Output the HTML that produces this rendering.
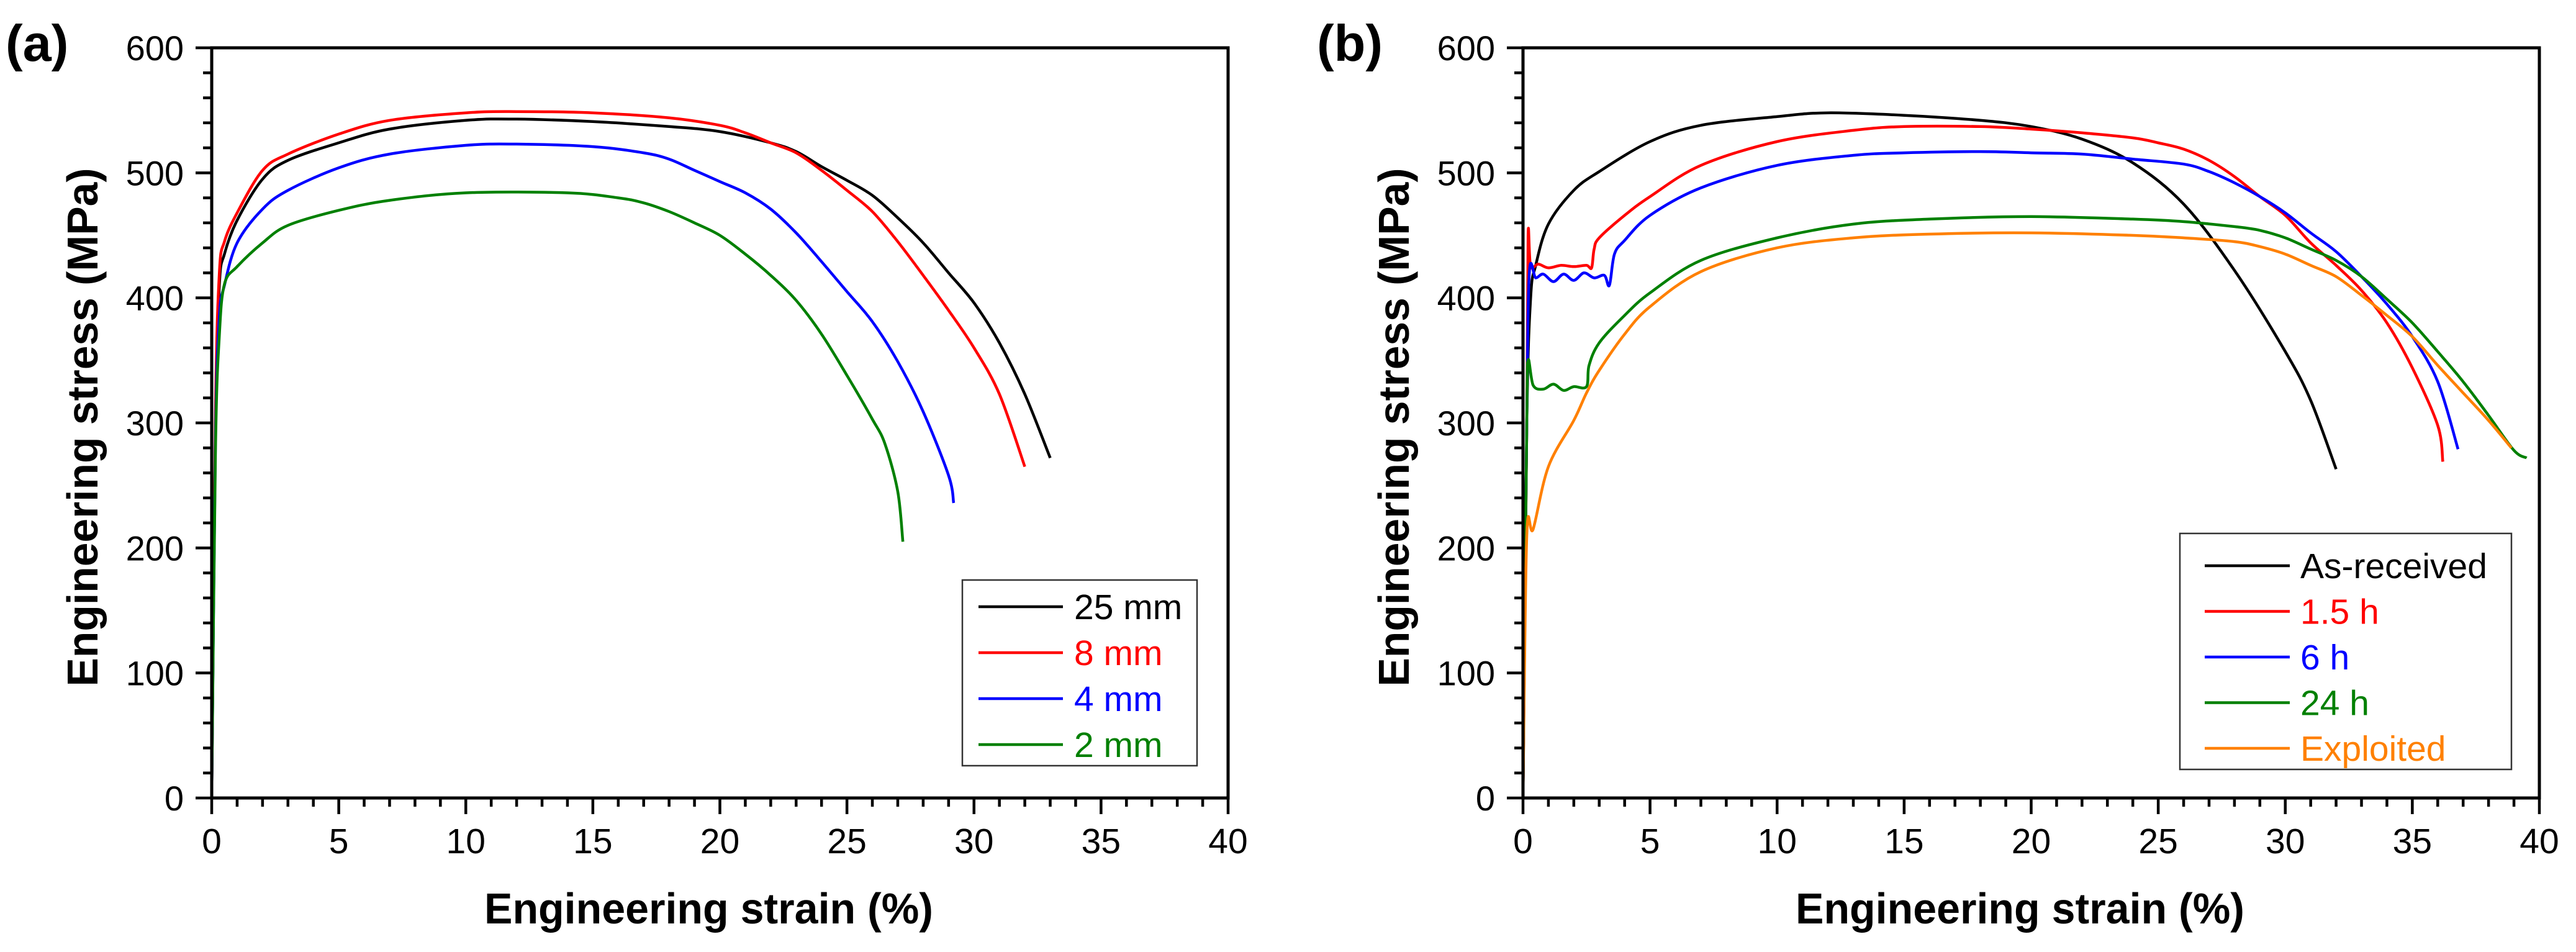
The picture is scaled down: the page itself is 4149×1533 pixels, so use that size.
<!DOCTYPE html>
<html><head><meta charset="utf-8"><style>
html,body{margin:0;padding:0;background:#fff;}
svg{display:block;font-family:"Liberation Sans",Arial,sans-serif;}
</style></head><body>
<svg id="fig" width="4149" height="1533" viewBox="0 0 4149 1533" xmlns="http://www.w3.org/2000/svg"></svg>
<script>
// ---- data (strain %, stress MPa) ----
const xTicks = [0,5,10,15,20,25,30,35,40];
const yTicks = [0,100,200,300,400,500,600];

// Panel (a)
const a25Strain = [0,0.15,0.3,0.5,1,2,3,5,7,10,12,15,18,20,22,23,24,25,26,27,28,29,30,31,32,33];
const a25Stress = [0,300,410,435,462,495,510,524,535,542,543,541,537,533,524,517,505,494,482,464,444,420,396,364,323,272];
const a8Strain = [0,0.15,0.3,0.5,1,2,3,5,7,10,12,15,18,20,21,22,23,24,25,26,27,28,29,30,31,32];
const a8Stress = [0,310,420,445,468,502,515,531,542,548,549,548,544,538,532,524,516,502,486,469,445,418,390,360,323,265];
const a4Strain = [0,0.15,0.3,0.5,1,2,3,5,7,10,12,15,17,18,19,20,21,22,23,24,25,26,27,28,29,29.2];
const a4Stress = [0,290,385,410,444,471,486,504,515,522,523,521,516,511,502,493,484,471,452,429,405,381,349,309,258,236];
const a2Strain = [0,0.15,0.3,0.5,1,2,3,5,7,10,14,16,17,18,19,20,21,22,23,24,25,26,26.5,27,27.2];
const a2Stress = [0,280,370,411,425,444,458,470,478,484,484,480,476,469,460,450,435,418,398,371,338,303,283,245,205];

// Panel (b)
const bARStrain = [0,0.15,0.3,0.5,1,2,3,5,7,10,12,15,18,20,22,24,26,28,30,31,32];
const bARStress = [0,300,400,426,459,486,501,525,538,545,548,546,542,537,527,508,475,422,357,318,263];
const b15Strain = [0,0.15,0.2,0.3,0.6,1,1.5,2,2.5,2.7,2.8,3,4,5,7,10,13,15,18,20,22,24,25,26,27,28,29,30,31,32,33,34,35,36,36.2];
const b15Stress = [0,300,450,425,427,424,426,425,426,424,439,448,466,481,506,525,534,537,537,535,532,528,524,519,510,497,481,466,444,426,406,380,344,298,269];
const b6Strain = [0,0.15,0.25,0.5,0.8,1.2,1.6,2,2.4,2.8,3.2,3.4,3.6,4,5,7,10,13,15,18,20,22,24,26,27,28,29,30,31,32,33,34,35,36,36.8];
const b6Stress = [0,300,420,416,419,413,419,414,420,416,418,410,435,446,466,488,506,514,516,517,516,515,511,507,501,492,481,468,452,437,417,395,369,333,279];
const b24Strain = [0,0.15,0.2,0.4,0.8,1.2,1.6,2,2.5,2.6,3,4,5,7,10,13,16,20,24,26,28,29,30,31,32,33,34,35,36,37,38,39,39.5];
const b24Stress = [0,300,350,330,327,331,326,329,329,346,364,386,404,430,448,459,463,465,463,461,457,454,448,439,430,417,399,380,357,333,306,278,272];
const bExStrain = [0,0.15,0.4,1,2,2.5,3,4,5,7,10,13,16,20,24,26,28,29,30,31,32,33,34,35,36,37,38,38.9];
const bExStress = [0,210,215,265,302,324,342,371,393,421,440,448,451,452,450,448,445,441,435,426,417,402,386,369,346,324,302,280];

const NS = "http://www.w3.org/2000/svg";
const svg = document.getElementById('fig');
function mk(tag, attrs, parent){
  const e = document.createElementNS(NS, tag);
  for (const k in attrs) e.setAttribute(k, attrs[k]);
  (parent||svg).appendChild(e);
  return e;
}
function smoothPath(pts){
  let d = 'M' + pts[0][0].toFixed(1) + ',' + pts[0][1].toFixed(1);
  for (let i=0;i<pts.length-1;i++){
    const p0 = pts[i-1]||pts[i], p1 = pts[i], p2 = pts[i+1], p3 = pts[i+2]||p2;
    const c1x = p1[0]+(p2[0]-p0[0])/6, c1y = p1[1]+(p2[1]-p0[1])/6;
    const c2x = p2[0]-(p3[0]-p1[0])/6, c2y = p2[1]-(p3[1]-p1[1])/6;
    d += 'C'+c1x.toFixed(1)+','+c1y.toFixed(1)+' '+c2x.toFixed(1)+','+c2y.toFixed(1)+' '+p2[0].toFixed(1)+','+p2[1].toFixed(1);
  }
  return d;
}

function panel(cfg){
  const g = mk('g', {});
  
  
  const X0 = cfg.x0, X1 = cfg.x0 + 1637, Y0 = 1285, Y1 = 77;
  const sx = v => X0 + (v/40)*(X1-X0);
  const sy = v => Y0 - (v/600)*(Y0-Y1);

  for (let v=0; v<=40; v+=1){
    const major = v%5===0;
    const t = mk('line', {x1:sx(v), x2:sx(v), y1:Y0, y2:Y0+(major?26:14), stroke:'#000','stroke-width':4.5}, g);
    
    
  }
  for (let v=0; v<=600; v+=20){
    const major = v%100===0;
    const t = mk('line', {x1:X0-(major?26:14), x2:X0, y1:sy(v), y2:sy(v), stroke:'#000','stroke-width':4.5}, g);
    
    
  }
  xTicks.forEach(v=>{
    const t = mk('text', {x:sx(v), y:1374, 'font-size':57, 'text-anchor':'middle', fill:'#000'}, g);
    t.textContent = v;
    
    
  });
  yTicks.forEach(v=>{
    const t = mk('text', {x:X0-45, y:sy(v)+20, 'font-size':56, 'text-anchor':'end', fill:'#000'}, g);
    t.textContent = v;
    
    
  });

  cfg.series.forEach(s=>{
    const pts = s.x.map((x,i)=>[sx(x), sy(s.y[i])]);
    const p = mk('path', {d:smoothPath(pts), fill:'none', stroke:s.color, 'stroke-width':4.5, 'stroke-linejoin':'round'}, g);
    
    
  });

  const fr = mk('rect', {x:X0, y:Y1, width:X1-X0, height:Y0-Y1, fill:'none', stroke:'#000', 'stroke-width':5}, g);
  
  

  const xt = mk('text', {x:(X0+X1)/2-18, y:1487, 'font-size':70, 'font-weight':'bold', 'text-anchor':'middle', textLength:723, lengthAdjust:'spacingAndGlyphs'}, g);
  xt.textContent = 'Engineering strain (%)';
  
  
  const ycx = X0-209;
  const yt = mk('text', {x:0, y:0, 'font-size':70, 'font-weight':'bold', 'text-anchor':'middle', textLength:835, lengthAdjust:'spacingAndGlyphs', transform:'translate('+(ycx+25)+',688) rotate(-90)'}, g);
  yt.textContent = 'Engineering stress (MPa)';
  
  
  const pl = mk('text', {x:cfg.labelX, y:98, 'font-size':83, 'font-weight':'bold'}, g);
  pl.textContent = cfg.label;
  
  

  const L = cfg.legend;
  const lg = mk('g', {}, g);
  
  
  const lb = mk('rect', {x:L.x, y:L.y, width:L.w, height:L.h, fill:'#fff', stroke:'#333', 'stroke-width':2.5}, lg);
  
  
  cfg.series.forEach((s,i)=>{
    const yy = L.firstY + i*L.step;
    const ln = mk('line', {x1:L.lx1, x2:L.lx2, y1:yy, y2:yy, stroke:s.color, 'stroke-width':4.5}, lg);
    
    
    const tx = mk('text', {x:L.tx, y:yy+20, 'font-size':57, fill:s.color}, lg);
    tx.textContent = s.label;
    
    
  });
}

panel({name:'panel-a', x0:341, label:'(a)', labelX:9,
  series:[
    {id:'line-25mm', label:'25 mm', color:'#000000', x:a25Strain, y:a25Stress},
    {id:'line-8mm', label:'8 mm', color:'#ff0000', x:a8Strain, y:a8Stress},
    {id:'line-4mm', label:'4 mm', color:'#0000ff', x:a4Strain, y:a4Stress},
    {id:'line-2mm', label:'2 mm', color:'#008000', x:a2Strain, y:a2Stress}],
  legend:{x:1550, y:934, w:378, h:299, firstY:977, step:74, lx1:1576, lx2:1712, tx:1730}
});
panel({name:'panel-b', x0:2453, label:'(b)', labelX:2121,
  series:[
    {id:'line-as-received', label:'As-received', color:'#000000', x:bARStrain, y:bARStress},
    {id:'line-1-5h', label:'1.5 h', color:'#ff0000', x:b15Strain, y:b15Stress},
    {id:'line-6h', label:'6 h', color:'#0000ff', x:b6Strain, y:b6Stress},
    {id:'line-24h', label:'24 h', color:'#008000', x:b24Strain, y:b24Stress},
    {id:'line-exploited', label:'Exploited', color:'#ff8000', x:bExStrain, y:bExStress}],
  legend:{x:3511, y:859, w:534, h:380, firstY:911, step:73.5, lx1:3551, lx2:3688, tx:3705}
});
</script>
</body></html>
